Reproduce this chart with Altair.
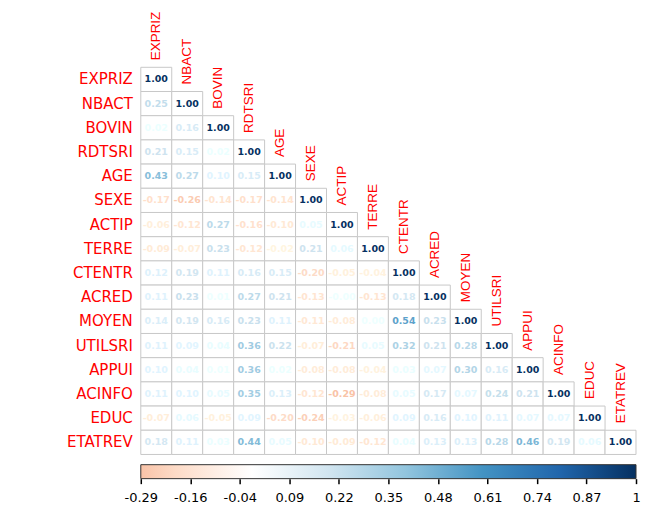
import altair as alt
import pandas as pd

names = ["EXPRIZ", "NBACT", "BOVIN", "RDTSRI", "AGE", "SEXE", "ACTIP", "TERRE",
         "CTENTR", "ACRED", "MOYEN", "UTILSRI", "APPUI", "ACINFO", "EDUC", "ETATREV"]

# lower triangle, row by row (including diagonal)
rows = [
    [1.00],
    [0.25, 1.00],
    [0.02, 0.16, 1.00],
    [0.21, 0.15, 0.02, 1.00],
    [0.43, 0.27, 0.10, 0.15, 1.00],
    [-0.17, -0.26, -0.14, -0.17, -0.14, 1.00],
    [-0.06, -0.12, 0.27, -0.16, -0.10, 0.05, 1.00],
    [-0.09, -0.07, 0.23, -0.12, -0.02, 0.21, 0.06, 1.00],
    [0.12, 0.19, 0.11, 0.16, 0.15, -0.20, -0.05, -0.04, 1.00],
    [0.11, 0.23, 0.01, 0.27, 0.21, -0.13, -0.00, -0.13, 0.18, 1.00],
    [0.14, 0.19, 0.16, 0.23, 0.11, -0.11, -0.08, 0.00, 0.54, 0.23, 1.00],
    [0.11, 0.09, 0.04, 0.36, 0.22, -0.07, -0.21, 0.05, 0.32, 0.21, 0.28, 1.00],
    [0.10, 0.04, 0.01, 0.36, 0.02, -0.08, -0.08, -0.04, 0.03, 0.07, 0.30, 0.16, 1.00],
    [0.11, 0.10, 0.05, 0.35, 0.13, -0.12, -0.29, -0.08, 0.05, 0.17, 0.07, 0.24, 0.21, 1.00],
    [-0.07, 0.06, -0.05, 0.09, -0.20, -0.24, -0.03, -0.06, 0.09, 0.16, 0.10, 0.11, 0.07, 0.07, 1.00],
    [0.18, 0.11, 0.03, 0.44, 0.05, -0.10, -0.09, -0.12, 0.04, 0.13, 0.13, 0.28, 0.46, 0.19, 0.06, 1.00],
]

pal_domain = [-1, -0.8, -0.6, -0.4, -0.2, 0, 0.2, 0.4, 0.6, 0.8, 1]
pal_colors = ["#67001F", "#B2182B", "#D6604D", "#F4A582", "#FDDBC7", "#FFFFFF",
              "#D1E5F0", "#92C5DE", "#4393C3", "#2166AC", "#053061"]

cb_ticks = [-0.29, -0.161, -0.032, 0.097, 0.226, 0.355, 0.484, 0.613, 0.742, 0.871, 1.0]
cb_labels = ["-0.29", "-0.16", "-0.04", "0.09", "0.22", "0.35", "0.48", "0.61", "0.74", "0.87", "1"]

cells = pd.DataFrame([
    {"row": names[i], "col": names[j], "r": v, "lab": f"{v:.2f}"}
    for i, vals in enumerate(rows) for j, v in enumerate(vals)
])
diag = pd.DataFrame({"name": names})

ydom = names + [" "]
xs = alt.Scale(domain=names, paddingInner=0, paddingOuter=0)
ys = alt.Scale(domain=ydom, paddingInner=0, paddingOuter=0)
cscale = alt.Scale(domain=pal_domain, range=pal_colors, type="linear", clamp=True)

rect = alt.Chart(cells).mark_rect(fill="white", stroke="#C8C8C8", strokeWidth=1).encode(
    x=alt.X("col:N", scale=xs, axis=None),
    y=alt.Y("row:N", scale=ys, axis=None),
)
nums = alt.Chart(cells).mark_text(font="DejaVu Sans", fontSize=9.5, fontWeight="bold").encode(
    x=alt.X("col:N", scale=xs, axis=None),
    y=alt.Y("row:N", scale=ys, axis=None),
    text="lab:N",
    color=alt.Color("r:Q", scale=cscale, legend=None),
)
rowlab = alt.Chart(diag).mark_text(font="DejaVu Sans", fontSize=15, align="right",
                                   baseline="middle", dx=-8, color="#FF0000").encode(
    x=alt.value(0),
    y=alt.Y("name:N", scale=ys, axis=None),
    text="name:N",
)
collab = alt.Chart(diag).mark_text(font="Liberation Sans", fontSize=13.5, align="left",
                                   baseline="middle", angle=270, dx=7, color="#FF0000").encode(
    x=alt.X("name:N", scale=xs, axis=None),
    y=alt.Y("name:N", scale=ys, axis=None, bandPosition=0),
    text="name:N",
)
matrix = alt.layer(rect, nums, rowlab, collab)

stops = [(-0.29, "#F9C3A8"), (-0.2, "#FDDBC7"), (0, "#FFFFFF"), (0.2, "#D1E5F0"),
         (0.4, "#92C5DE"), (0.6, "#4393C3"), (0.8, "#2166AC"), (1.0, "#053061")]
grad = alt.Gradient(
    gradient="linear",
    stops=[alt.GradientStop(color=c, offset=(v + 0.29) / 1.29) for v, c in stops],
    x1=0, x2=1, y1=0, y2=0,
)
cbdf = pd.DataFrame({"lo": [-0.29], "hi": [1.0]})
lab_map = " : ".join(
    f"abs(datum.value - ({t})) < 0.001 ? '{l}'" for t, l in zip(cb_ticks, cb_labels)
) + " : ''"
colorbar = alt.Chart(cbdf).mark_rect(fill=grad, stroke="#333333", strokeWidth=1).encode(
    x=alt.X("lo:Q", scale=alt.Scale(domain=[-0.29, 1.0], nice=False, zero=False),
            axis=alt.Axis(orient="bottom", values=cb_ticks, labelExpr=lab_map, title=None,
                          domain=False, grid=False, tickSize=5, tickColor="#000000",
                          tickWidth=1.5, labelFont="DejaVu Sans", labelFontSize=13,
                          labelColor="#000000", labelPadding=8, labelFlush=False,
                          labelOverlap=False)),
    x2="hi:Q",
    y=alt.value(398),
    y2=alt.value(412),
)

chart = alt.layer(matrix, colorbar).resolve_scale(
    x="independent", y="independent", color="independent"
).properties(
    width=496, height=412,
    autosize=alt.AutoSizeParams(type="none"),
    padding={"left": 133, "top": 59, "right": 6, "bottom": 30},
).configure_view(stroke=None)

chart.save("out.html", embed_options={"renderer": "svg", "actions": False})
